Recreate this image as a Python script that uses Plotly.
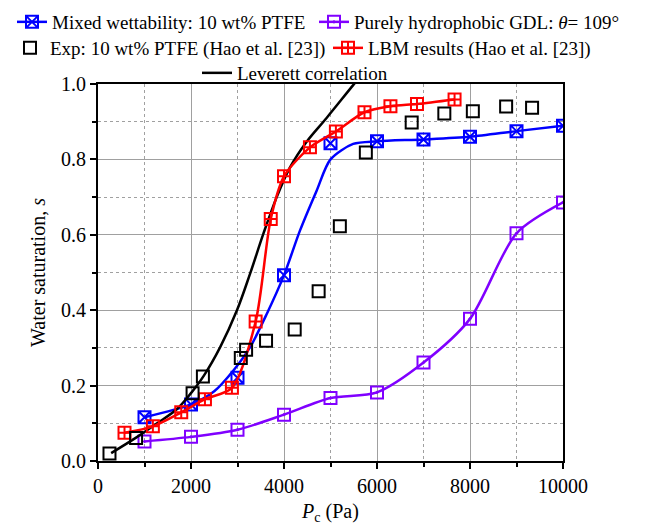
import plotly.graph_objects as go

# ---- data ----
mixed_p = [1000, 2000, 3000, 4000, 5000, 6000, 7000, 8000, 9000, 10000]
mixed_s = [0.116, 0.150, 0.221, 0.493, 0.843, 0.848, 0.853, 0.860, 0.875, 0.889]
mixed_fit_p = [1000, 2000, 2500, 2912, 3271, 3629, 4000, 4343, 4702, 5000, 5487, 6000, 7000, 8000, 9000, 10000]
mixed_fit_s = [0.116, 0.150, 0.185, 0.240, 0.302, 0.390, 0.493, 0.611, 0.717, 0.800, 0.841, 0.848, 0.853, 0.860, 0.875, 0.889]

hydro_p = [1000, 2000, 3000, 4000, 5000, 6000, 7000, 8000, 9000, 10000]
hydro_s = [0.052, 0.064, 0.083, 0.123, 0.167, 0.182, 0.261, 0.377, 0.604, 0.686]

exp_p = [247, 819, 2034, 2256, 3071, 3185, 3614, 4230, 4745, 5201, 5760, 6746, 7448, 8061, 8777, 9335]
exp_s = [0.020, 0.061, 0.180, 0.224, 0.273, 0.295, 0.319, 0.349, 0.450, 0.623, 0.818, 0.898, 0.922, 0.928, 0.940, 0.937]

lbm_p = [570, 1180, 1790, 2300, 2880, 3390, 3715, 4000, 4558, 5116, 5731, 6289, 6860, 7668]
lbm_s = [0.075, 0.092, 0.129, 0.164, 0.194, 0.370, 0.642, 0.755, 0.832, 0.874, 0.925, 0.941, 0.947, 0.959]

lev_p = [283, 819, 1270, 1700, 2000, 2270, 2628, 2986, 3271, 3557, 3843, 4129, 4487, 4916, 5487, 5750]
lev_s = [0.021, 0.062, 0.100, 0.138, 0.180, 0.225, 0.302, 0.399, 0.497, 0.603, 0.700, 0.779, 0.847, 0.910, 0.997, 1.036]

x_ticks = [0, 2000, 4000, 6000, 8000, 10000]
y_ticks = [0.0, 0.2, 0.4, 0.6, 0.8, 1.0]

BLUE = "#0000FF"
PURPLE = "#8000FF"
RED = "#FF0000"
FONT = "Liberation Serif"
W, H = 645, 528

fig = go.Figure()

fig.add_trace(go.Scatter(x=mixed_fit_p, y=mixed_fit_s, mode="lines",
                         line=dict(color=BLUE, width=2.5, shape="spline", smoothing=0.8),
                         showlegend=False, hoverinfo="skip"))
fig.add_trace(go.Scatter(x=mixed_p, y=mixed_s, mode="markers",
                         marker=dict(symbol="square-x-open", size=12, color=BLUE, line=dict(width=2)),
                         showlegend=False))
fig.add_trace(go.Scatter(x=[None], y=[None], mode="lines+markers", name="Mixed wettability: 10 wt% PTFE",
                         line=dict(color=BLUE, width=2.5),
                         marker=dict(symbol="square-x-open", size=12, color=BLUE, line=dict(width=2)),
                         legend="legend"))
fig.add_trace(go.Scatter(x=hydro_p, y=hydro_s, mode="lines+markers",
                         name="Purely hydrophobic GDL: <i>θ</i>= 109°",
                         line=dict(color=PURPLE, width=2.5, shape="spline", smoothing=0.8),
                         marker=dict(symbol="square-open-dot", size=12, color=PURPLE, line=dict(width=2)),
                         legend="legend2"))
fig.add_trace(go.Scatter(x=lev_p, y=lev_s, mode="lines", name="Leverett correlation",
                         line=dict(color="black", width=2.5, shape="spline", smoothing=1.0),
                         legend="legend5"))
fig.add_trace(go.Scatter(x=lbm_p, y=lbm_s, mode="lines+markers",
                         name="LBM results (Hao et al. [23])",
                         line=dict(color=RED, width=2.5, shape="spline", smoothing=0.8),
                         marker=dict(symbol="square-cross-open", size=12, color=RED, line=dict(width=2)),
                         legend="legend4"))
fig.add_trace(go.Scatter(x=exp_p, y=exp_s, mode="markers",
                         name="Exp: 10 wt% PTFE (Hao et al. [23])",
                         marker=dict(symbol="square-open", size=12, color="black", line=dict(width=2)),
                         legend="legend3"))


def leg(px, py):
    return dict(orientation="h", xref="container", yref="container",
                x=px / W, y=1 - py / H, xanchor="left", yanchor="middle",
                bgcolor="rgba(0,0,0,0)", borderwidth=0,
                font=dict(family=FONT, size=19, color="black"),
                itemclick=False, itemdoubleclick=False)


fig.update_layout(
    width=W, height=H,
    margin=dict(l=98, r=82, t=84, b=67, autoexpand=False),
    paper_bgcolor="white", plot_bgcolor="white",
    font=dict(family=FONT, size=20, color="black"),
    legend=leg(12, 22),
    legend2=leg(314, 22),
    legend3=leg(10, 48),
    legend4=leg(328, 48),
    legend5=leg(197, 73),
    xaxis=dict(range=[0, 10000], tickvals=x_ticks, ticktext=[str(v) for v in x_ticks],
               showline=True, linecolor="black", linewidth=2, mirror=True,
               ticks="outside", ticklen=6, tickwidth=1.5, tickcolor="black",
               showgrid=True, gridcolor="#a0a0a0", gridwidth=1, zeroline=False,
               minor=dict(dtick=1000, tick0=0, showgrid=True, gridcolor="#a0a0a0", griddash="3px,3px",
                          ticks="outside", ticklen=4, tickcolor="black"),
               tickfont=dict(family=FONT, size=20),
               title=dict(text="<i>P</i><sub>c</sub> (Pa)", font=dict(family=FONT, size=20), standoff=8)),
    yaxis=dict(range=[0, 1.0], tickvals=y_ticks, ticktext=["%.1f" % v for v in y_ticks],
               showline=True, linecolor="black", linewidth=2, mirror=True,
               ticks="outside", ticklen=6, tickwidth=1.5, tickcolor="black",
               showgrid=True, gridcolor="#a0a0a0", gridwidth=1, zeroline=False,
               minor=dict(dtick=0.1, tick0=0, showgrid=True, gridcolor="#a0a0a0", griddash="3px,3px",
                          ticks="outside", ticklen=4, tickcolor="black"),
               tickfont=dict(family=FONT, size=20),
               title=dict(text="Water saturation, <i>s</i>", font=dict(family=FONT, size=20), standoff=10)),
)

fig.write_html("out.html")
